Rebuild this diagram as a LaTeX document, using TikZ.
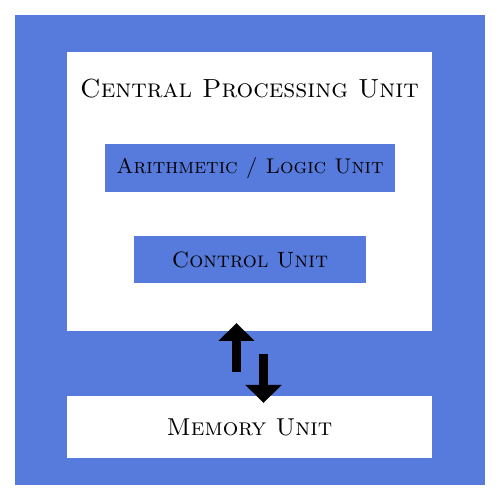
\documentclass[tikz,border=0pt]{standalone}
\usepackage{fontspec}
\usetikzlibrary{arrows.meta}

\definecolor{cpublue}{RGB}{86,123,220}

\tikzset{
  panel/.style={fill=white, inner sep=0pt},
  unitbox/.style={fill=cpublue, inner sep=0pt, minimum height=0.95cm},
  flow/.style={line width=0.18cm, -{Triangle[length=0.36cm, width=0.7cm]}}
}

\begin{document}
\begin{tikzpicture}
    \useasboundingbox (0,0) rectangle (10,10);
    \fill[cpublue] (0.3,0.3) rectangle (9.7,9.7);

    % processor and its parts
    \node[panel, minimum width=7.3cm, minimum height=5.58cm] (cpu) at (4.99,6.17) {};
    \node[font=\fontsize{14.9}{16}\selectfont\scshape] (title) at (4.99,8.22) {Central Processing Unit};
    \node[unitbox, minimum width=5.8cm, font=\fontsize{12.1}{14}\selectfont\scshape] (alu) at (5.0,6.64) {Arithmetic / Logic Unit};
    \node[unitbox, minimum width=4.64cm, font=\fontsize{12.6}{14}\selectfont\scshape] (cu) at (5.0,4.81) {Control Unit};

    % memory
    \node[panel, minimum width=7.3cm, minimum height=1.24cm,
      font=\fontsize{13.9}{16}\selectfont\scshape] (mem) at (4.99,1.46) {Memory Unit};

    % data flow between memory and processor
    \coordinate (upfrom) at (4.73,2.56);
    \coordinate (upto) at (4.73,3.54);
    \coordinate (downfrom) at (5.27,2.92);
    \coordinate (downto) at (5.27,1.94);
    \draw[flow] (upfrom) -- (upto);
    \draw[flow] (downfrom) -- (downto);
  \end{tikzpicture}
\end{document}
